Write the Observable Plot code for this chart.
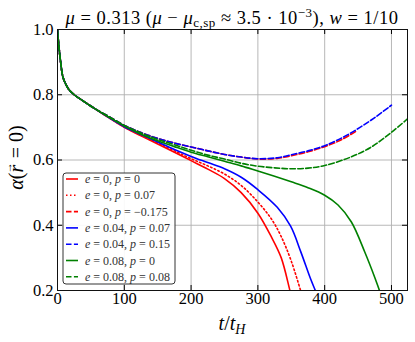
<!DOCTYPE html>
<html>
<head>
<meta charset="utf-8">
<script src="https://cdn.jsdelivr.net/npm/d3@7"></script>
<script src="https://cdn.jsdelivr.net/npm/@observablehq/plot@0.6"></script>
<style>
  html, body { margin: 0; padding: 0; background: #fff; }
  #chart svg { display: block; }
</style>
</head>
<body>
<div id="chart"></div>
<script>
// ---- data ----
const tEarly = [0, 2, 4.5, 8, 12, 17, 25, 37, 57];
const aEarly = [1.0, 0.95, 0.904, 0.855, 0.834, 0.816, 0.800, 0.783, 0.756];

const redSolidT = [77, 100, 125, 150, 175, 200, 225, 250, 275, 300, 320, 335, 348, 352];
const redSolidA = [0.729, 0.700, 0.674, 0.649, 0.624, 0.598, 0.572, 0.543, 0.500, 0.437, 0.365, 0.30, 0.2, 0.17];

const redDotT = [77, 100, 125, 150, 175, 200, 225, 250, 275, 300, 320, 335, 350, 364, 368];
const redDotA = [0.730, 0.701, 0.676, 0.652, 0.628, 0.604, 0.582, 0.557, 0.522, 0.471, 0.42, 0.365, 0.29, 0.2, 0.175];

const redDashT = [77, 100, 125, 150, 175, 200, 225, 250, 275, 300, 329, 350, 375, 400, 425, 447];
const redDashA = [0.733, 0.706, 0.684, 0.666, 0.652, 0.640, 0.628, 0.617, 0.609, 0.603, 0.605, 0.613, 0.625, 0.641, 0.662, 0.688];

const blueSolidT = [77, 100, 125, 150, 175, 200, 225, 250, 275, 300, 329, 349, 364, 379, 386, 390];
const blueSolidA = [0.730, 0.702, 0.678, 0.655, 0.632, 0.611, 0.592, 0.573, 0.547, 0.509, 0.455, 0.397, 0.32, 0.235, 0.2, 0.18];

const blueDashT = [77, 100, 125, 150, 175, 200, 225, 250, 275, 300, 329, 350, 375, 400, 425, 449, 475, 500];
const blueDashA = [0.733, 0.706, 0.684, 0.666, 0.652, 0.640, 0.628, 0.617, 0.609, 0.604, 0.607, 0.616, 0.628, 0.644, 0.667, 0.695, 0.73, 0.768];

const greenSolidT = [77, 100, 125, 150, 175, 200, 225, 250, 275, 300, 325, 350, 375, 400, 420, 440, 460, 475, 482, 486];
const greenSolidA = [0.731, 0.704, 0.679, 0.659, 0.641, 0.624, 0.610, 0.596, 0.582, 0.566, 0.550, 0.533, 0.515, 0.492, 0.462, 0.41, 0.318, 0.24, 0.2, 0.178];

const greenDashT = [77, 100, 125, 150, 175, 200, 225, 250, 275, 300, 325, 349, 375, 400, 439, 470, 500, 524];
const greenDashA = [0.733, 0.706, 0.683, 0.663, 0.647, 0.630, 0.615, 0.603, 0.590, 0.581, 0.576, 0.573, 0.575, 0.583, 0.609, 0.64, 0.685, 0.726];

const labels = ["e = 0, p = 0", "e = 0, p = 0.07", "e = 0, p = \u22120.175",
  "e = 0.04, p = 0.07", "e = 0.04, p = 0.15", "e = 0.08, p = 0", "e = 0.08, p = 0.08"];
const colors = ["#ff0000", "#ff0000", "#ff0000", "#0000ff", "#0000ff", "#008000", "#008000"];
const dashes = [null, "1.5,2.5", "5.5,2.4", null, "5.5,2.4", null, "5.5,2.4"];
const seriesT = [redSolidT, redDotT, redDashT, blueSolidT, blueDashT, greenSolidT, greenDashT];
const seriesA = [redSolidA, redDotA, redDashA, blueSolidA, blueDashA, greenSolidA, greenDashA];

const xTicks = [0, 100, 200, 300, 400, 500];
const yTicks = [0.2, 0.4, 0.6, 0.8, 1.0];

// ---- build series rows ----
const series = seriesT.map((ts, i) => {
  const rows = tEarly.map((t, j) => ({t, a: aEarly[j]}));
  ts.forEach((t, j) => rows.push({t, a: seriesA[i][j]}));
  return rows;
});

const W = 415, H = 342;
const mL = 57, mR = 8, mT = 29, mB = 52;
const frameH = H - mT - mB, frameW = W - mL - mR;
const tick = 5;
const font = "'Liberation Serif', 'DejaVu Serif', serif";

const marks = [
  Plot.gridX(xTicks, {stroke: "#b0b0b0", strokeOpacity: 1, strokeWidth: 0.9}),
  Plot.gridY(yTicks, {stroke: "#b0b0b0", strokeOpacity: 1, strokeWidth: 0.9}),
];
series.forEach((rows, i) => {
  marks.push(Plot.line(rows, {
    x: "t", y: "a", stroke: colors[i], strokeWidth: 1.6,
    strokeDasharray: dashes[i] ?? undefined, curve: "catmull-rom", clip: true
  }));
});
marks.push(
  Plot.tickX(xTicks, {x: d => d, insetTop: frameH - tick, stroke: "#000"}),
  Plot.tickX(xTicks, {x: d => d, insetBottom: frameH - tick, stroke: "#000"}),
  Plot.tickY(yTicks, {y: d => d, insetRight: frameW - tick, stroke: "#000"}),
  Plot.tickY(yTicks, {y: d => d, insetLeft: frameW - tick, stroke: "#000"}),
  Plot.axisX(xTicks, {tickSize: 0, tickPadding: 2, label: null, tickFormat: d => String(d), fontSize: 16.5, fill: "#000"}),
  Plot.axisY(yTicks, {tickSize: 0, tickPadding: 4, label: null, tickFormat: d => d.toFixed(1), fontSize: 16.5, fill: "#000"}),
  Plot.frame({stroke: "#111", strokeWidth: 1})
);

const svgNode = Plot.plot({
  width: W, height: H,
  marginLeft: mL, marginRight: mR, marginTop: mT, marginBottom: mB,
  x: {domain: [0, 524], ticks: xTicks},
  y: {domain: [0.2, 1.0], ticks: yTicks},
  style: {fontFamily: font, background: "#fff", overflow: "visible"},
  marks
});
document.getElementById("chart").appendChild(svgNode);

const svg = d3.select(svgNode);

// ---- title ----
const title = svg.append("text")
  .attr("x", mL + frameW / 2).attr("y", 24)
  .attr("text-anchor", "middle")
  .style("font-family", font).style("font-size", "18.5px").style("letter-spacing", "0.5px")
  .attr("fill", "#000");
title.append("tspan").attr("font-style", "italic").text("\u03bc");
title.append("tspan").text(" = 0.313 (");
title.append("tspan").attr("font-style", "italic").text("\u03bc");
title.append("tspan").text(" \u2212 ");
title.append("tspan").attr("font-style", "italic").text("\u03bc");
title.append("tspan").attr("font-size", "13px").attr("dy", 3).text("c,sp");
title.append("tspan").attr("dy", -3).text(" \u2248 3.5 \u00b7 10");
title.append("tspan").attr("font-size", "13px").attr("dy", -7).text("\u22123");
title.append("tspan").attr("dy", 7).text("), ");
title.append("tspan").attr("font-style", "italic").text("w");
title.append("tspan").text(" = 1/10");

// ---- x label ----
const xl = svg.append("text")
  .attr("x", mL + frameW / 2).attr("y", 330)
  .attr("text-anchor", "middle")
  .style("font-family", font).style("font-size", "20px").attr("fill", "#000");
xl.append("tspan").attr("font-style", "italic").text("t");
xl.append("tspan").text("/");
xl.append("tspan").attr("font-style", "italic").text("t");
xl.append("tspan").attr("font-style", "italic").attr("font-size", "14px").attr("dy", 4).text("H");

// ---- y label ----
const yl = svg.append("text")
  .attr("transform", `translate(23,${mT + frameH / 2 - 2}) rotate(-90)`)
  .attr("text-anchor", "middle")
  .style("font-family", font).style("font-size", "20px").attr("fill", "#000");
yl.append("tspan").attr("font-style", "italic").text("\u03b1");
yl.append("tspan").text("(");
yl.append("tspan").attr("font-style", "italic").text("r");
yl.append("tspan").attr("font-size", "11px").attr("dx", -8.5).attr("dy", -11).text("\u2192");
yl.append("tspan").attr("dy", 11).attr("dx", -1).text(" = 0)");

// ---- legend ----
const lg = svg.append("g").attr("transform", "translate(63,173)");
lg.append("rect").attr("x", 0).attr("y", 0).attr("width", 112).attr("height", 111)
  .attr("rx", 3).attr("fill", "#fff").attr("fill-opacity", 0.9)
  .attr("stroke", "#333").attr("stroke-width", 1);
labels.forEach((lab, i) => {
  const y = 6 + i * 16.3;
  lg.append("line").attr("x1", 3).attr("x2", 15).attr("y1", y).attr("y2", y)
    .attr("stroke", colors[i]).attr("stroke-width", 1.6)
    .attr("stroke-dasharray", dashes[i]);
  const tx = lg.append("text").attr("x", 22).attr("y", y + 4)
    .attr("text-anchor", "start")
    .style("font-family", font).style("font-size", "12px").attr("fill", "#333");
  const parts = lab.split(/(e|p)/);
  parts.forEach(p => {
    if (p === "e" || p === "p") tx.append("tspan").attr("font-style", "italic").text(p);
    else if (p) tx.append("tspan").text(p);
  });
});
</script>
</body>
</html>
